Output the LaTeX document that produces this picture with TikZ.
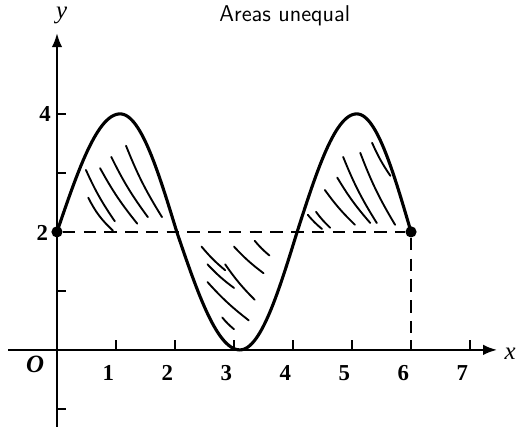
\documentclass[tikz,border=0pt]{standalone}
\usepackage{fontspec}
\setmainfont{Liberation Serif}
\usepackage{tikz}
\usetikzlibrary{positioning, arrows.meta}

\begin{document}
\begin{tikzpicture}[
            axis/.style={line width=1.1pt, -{Latex[length=2.4mm, width=1.8mm]}},
            curve/.style={line width=1.5pt},
            guide/.style={line width=1.1pt, dash pattern=on 6pt off 4pt},
            hatch/.style={line width=0.9pt, line cap=round},
            tick/.style={line width=0.8pt},
            dot/.style={circle, fill, inner sep=0pt, minimum size=1.9mm},
            lbl/.style={font=\fontsize{11}{11}\selectfont\bfseries, inner sep=1pt}
        ]

            % frame of the picture
            \clip (-0.966,-1.305) rectangle (7.83,5.93);

            % note on top
            \node[font=\fontsize{11}{11}\selectfont\sffamily, anchor=base, inner sep=0pt] (note) at (3.86,5.56) {Areas unequal};

            % Axes
            \coordinate (xs) at (-0.83,0);
            \coordinate (xe) at (7.46,0);
            \coordinate (ys) at (0,-1.31);
            \coordinate (ye) at (0,5.37);
            \draw[axis] (xs) -- (xe);
            \draw[axis] (ys) -- (ye);
            \node[font=\itshape\large] (xl) at (7.68,-0.06) {x};
            \node[font=\itshape\large] (yl) at (0.08,5.66) {y};
            \node[font=\itshape\large\bfseries] (o) at (-0.37,-0.25) {O};

            % Ticks
            \foreach \i in {1,...,7} {
                \draw[tick] (\i,0) -- (\i,0.17);
                \node[lbl] (n\i) at (\i-0.13,-0.39) {\i};
            }
            \foreach \j in {-1,1,3,4}
                \draw[tick] (0,\j) -- (0.15,\j);
            \node[lbl] (m2) at (-0.25,1.98) {2};
            \node[lbl] (m4) at (-0.2,4.0) {4};

            % Points and dashed lines
            \node[dot] (A) at (0,2) {};
            \node[dot] (B) at (6,2) {};
            \coordinate (B0) at (6,0);
            \draw[guide] (A) -- (B);
            \draw[guide] (B) -- (B0);

            % Curve
            \draw[curve] plot[domain=0:1.07, samples=30] (\x,{2+2*sin(90*\x/1.07)})
                -- plot[domain=1.07:2.03, samples=30] (\x,{2+2*cos(90*(\x-1.07)/0.96)})
                -- plot[domain=2.03:3.1, samples=30] (\x,{2-2*sin(90*(\x-2.03)/1.07)})
                -- plot[domain=3.1:4.07, samples=30] (\x,{2-2*cos(90*(\x-3.1)/0.97)})
                -- plot[domain=4.07:5.08, samples=30] (\x,{2+2*sin(90*(\x-4.07)/1.01)})
                -- plot[domain=5.08:6, samples=30] (\x,{2+2*cos(90*(\x-5.08)/0.92)});

            % Hatching, first hump
            \draw[hatch] (0.53,2.58) to[bend right=10] (0.95,2.02);
            \draw[hatch] (0.49,3.05) to[bend right=5] (0.98,2.18);
            \draw[hatch] (0.73,3.08) to[bend right=5] (1.36,2.14);
            \draw[hatch] (0.92,3.27) to[bend right=5] (1.54,2.25);
            \draw[hatch] (1.17,3.46) to[bend right=5] (1.78,2.25);

            % Hatching, trough
            \draw[hatch] (2.45,1.75) to[bend right=5] (2.85,1.35);
            \draw[hatch] (2.55,1.45) to[bend right=5] (3.0,1.05);
            \draw[hatch] (2.55,1.15) to[bend right=5] (3.25,0.5);
            \draw[hatch] (2.85,1.45) to[bend right=5] (3.35,0.85);
            \draw[hatch] (3.0,1.75) to[bend right=5] (3.5,1.3);
            \draw[hatch] (3.35,1.85) to[bend right=5] (3.6,1.6);
            \draw[hatch] (2.8,0.55) to[bend right=5] (3.0,0.35);

            % Hatching, second hump
            \draw[hatch] (4.25,2.29) to[bend right=5] (4.49,2.05);
            \draw[hatch] (4.39,2.34) to[bend right=5] (4.63,2.07);
            \draw[hatch] (4.54,2.71) to[bend right=5] (5.05,2.12);
            \draw[hatch] (4.75,2.92) to[bend right=5] (5.31,2.15);
            \draw[hatch] (4.85,3.27) to[bend right=5] (5.42,2.15);
            \draw[hatch] (5.14,3.34) to[bend right=5] (5.73,2.12);
            \draw[hatch] (5.34,3.51) to[bend right=5] (5.65,2.95);

        \end{tikzpicture}
\end{document}
